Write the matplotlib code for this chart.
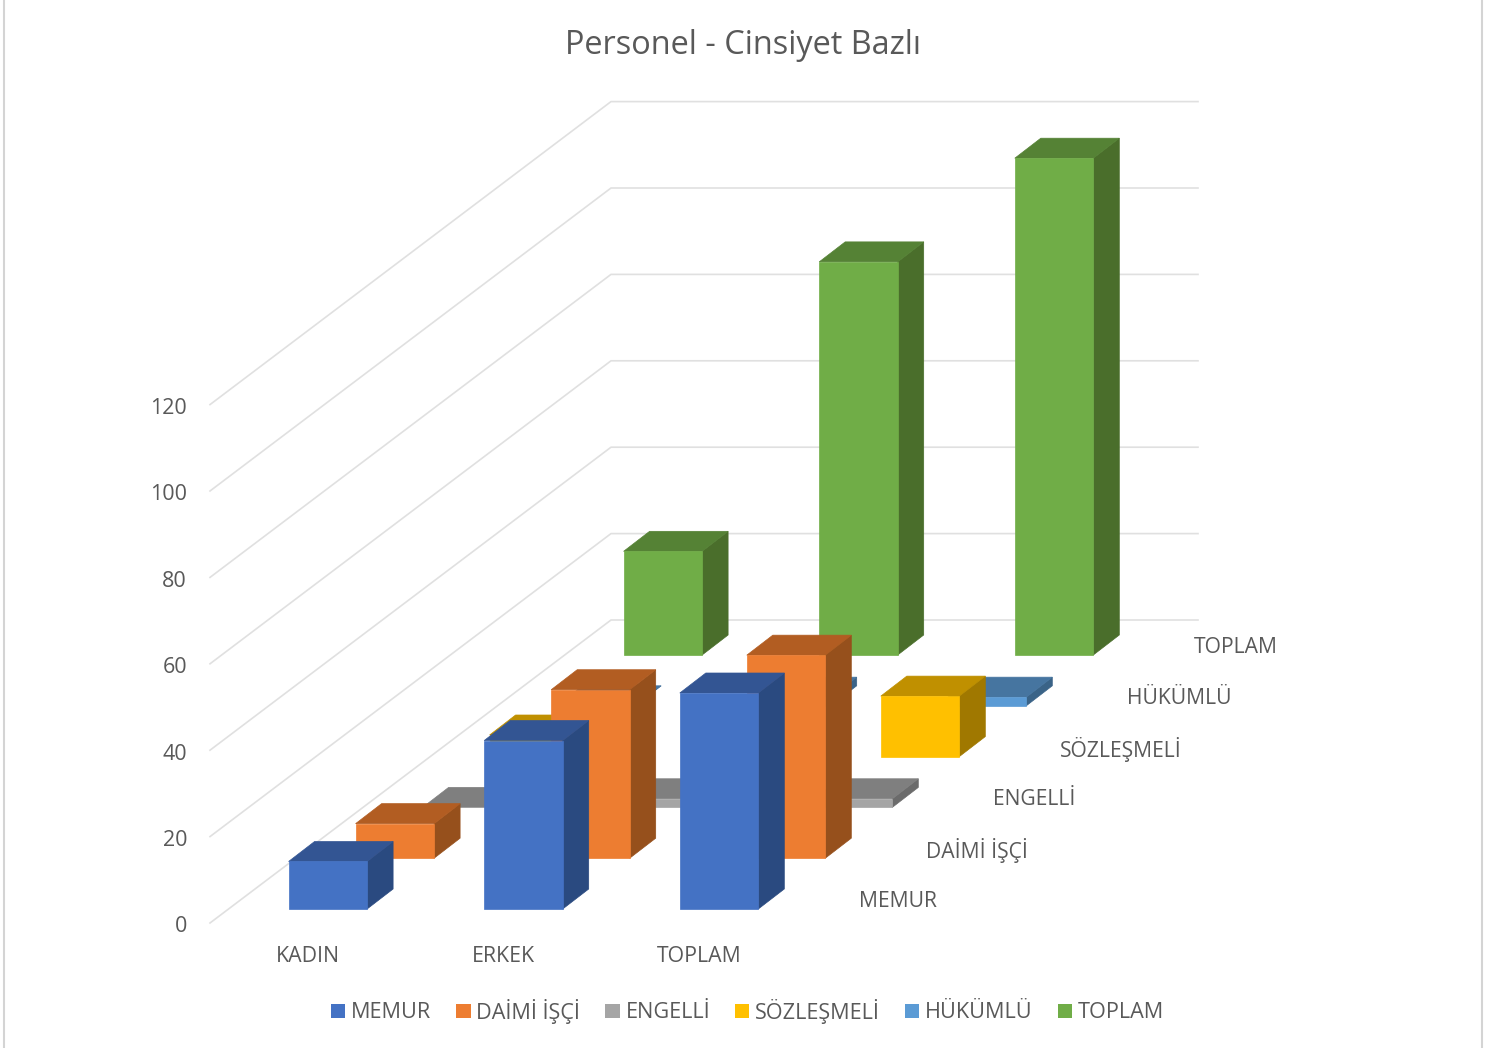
import matplotlib
matplotlib.use("Agg")
import matplotlib.pyplot as plt
from matplotlib.patches import Polygon, Patch

plt.rcParams['font.family'] = ['Open Sans', 'DejaVu Sans']

# values
categories = ["KADIN", "ERKEK", "TOPLAM"]
series_names = ["MEMUR", "DAİMİ İŞÇİ", "ENGELLİ", "SÖZLEŞMELİ", "HÜKÜMLÜ", "TOPLAM"]
memur = [11, 39, 50]
daimi = [8, 39, 47]
engelli = [0, 2, 2]
sozlesmeli = [5, 9, 14]
hukumlu = [0, 2, 2]
toplam = [24, 91, 115]
series_values = [memur, daimi, engelli, sozlesmeli, hukumlu, toplam]
y_ticks = [0, 20, 40, 60, 80, 100, 120]

front_colors = ["#4472C4", "#ED7D31", "#A5A5A5", "#FFC000", "#5B9BD5", "#70AD47"]
top_colors = ["#335593", "#B25D22", "#7F7F7F", "#C09000", "#4675A0", "#558235"]
side_colors = ["#2A4A80", "#96501C", "#6B6B6B", "#A07800", "#3A6387", "#4A6E2B"]
text_color = "#595959"
grid_color = "#E0E0E0"

# oblique projection, everything is in image pixels (y down)
x0, y0 = 288.6, 909      # front left floor corner of first bar
cat_step = 195.6
depth_dx, depth_dy = 67, -50.8
bar_w = 78.5
face_dx, face_dy = 26, -20
unit = 4.32              # pixels per value unit


def project(cat, ser, value=0):
    return x0 + cat * cat_step + ser * depth_dx, y0 + ser * depth_dy - value * unit


fig = plt.figure(figsize=(15.04, 10.48), dpi=100)
ax = fig.add_axes([0, 0, 1, 1])
ax.set_xlim(0, 1504)
ax.set_ylim(1048, 0)
ax.axis("off")

# chart frame
ax.plot([4, 4], [0, 1048], color="#D4D4D4", lw=1.5)
ax.plot([1482, 1482], [0, 1048], color="#D4D4D4", lw=1.5)

# walls: side gridlines and back gridlines
for t in y_ticks:
    wall_y = 620 - t * unit
    ax.plot([210, 611, 1198], [wall_y + 303, wall_y, wall_y], color=grid_color, lw=1.2, zorder=1)
    ax.text(187, wall_y + 307, str(t), ha="right", va="center", fontsize=15.5, color=text_color)

# bars, back series first
for s in range(len(series_values) - 1, -1, -1):
    for c, v in enumerate(series_values[s]):
        x, base = project(c, s)
        _, top = project(c, s, v)
        front = [(x, base), (x + bar_w, base), (x + bar_w, top), (x, top)]
        top_face = [(x, top), (x + bar_w, top), (x + bar_w + face_dx, top + face_dy), (x + face_dx, top + face_dy)]
        side = [(x + bar_w, base), (x + bar_w + face_dx, base + face_dy),
                (x + bar_w + face_dx, top + face_dy), (x + bar_w, top)]
        for pts, col in [(side, side_colors[s]), (top_face, top_colors[s]), (front, front_colors[s])]:
            ax.add_patch(Polygon(pts, closed=True, facecolor=col, edgecolor=col, lw=0.5, zorder=3))

# category labels
for c, name in enumerate(categories):
    x, _ = project(c, 0)
    ax.text(x + 19, 957, name, ha="center", va="center", fontsize=15.3, color=text_color)

# series labels along the depth axis
for s, name in enumerate(series_names):
    x, y = project(2, s)
    ax.text(x + 179, y - 7.5, name, ha="left", va="center", fontsize=15.2, color=text_color)

ax.text(743, 46, "Personel - Cinsiyet Bazlı", ha="center", va="center", fontsize=23.4, color=text_color)

handles = [Patch(facecolor=c, edgecolor="none") for c in front_colors]
fig.legend(handles, series_names, loc="center", bbox_to_anchor=(747.5 / 1504, 1 - 1011 / 1048), ncol=6,
           frameon=False, fontsize=15.6, labelcolor=text_color, handlelength=0.66, handleheight=0.66,
           handletextpad=0.27, columnspacing=1.15)

fig.savefig("out.png", dpi=100)
